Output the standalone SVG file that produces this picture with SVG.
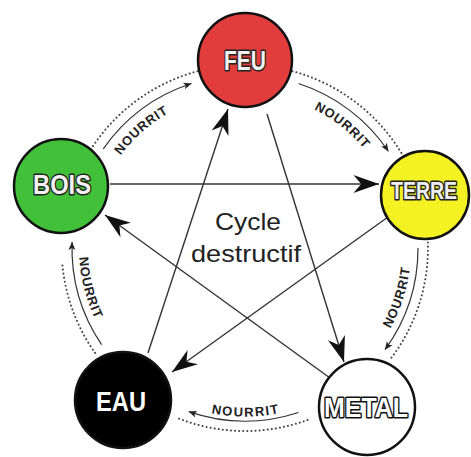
<svg xmlns="http://www.w3.org/2000/svg" width="471" height="457" viewBox="0 0 471 457">
<style>
.node{stroke:#111;stroke-width:2.5}
.lbl{font-family:"Liberation Sans",Arial,sans-serif;font-weight:bold;text-anchor:middle;paint-order:stroke;stroke-linejoin:round}
.dest{fill:none;stroke:#333;stroke-width:1.4}
.nour{fill:none;stroke:#333;stroke-width:1.2}
.dots{fill:none;stroke:#444;stroke-width:2;stroke-dasharray:0.1 4;stroke-linecap:round}
.nt{font-family:"Liberation Sans",Arial,sans-serif;font-weight:bold;font-size:13px;fill:#222}
.cyc{font-family:"Liberation Sans",Arial,sans-serif;font-size:24px;fill:#222;text-anchor:middle}
</style>
<defs>
<marker id="big" markerUnits="userSpaceOnUse" markerWidth="30" markerHeight="20" viewBox="-24 -9 26 18" refX="0" refY="0" orient="auto">
<path d="M0,0 L-23,-8 L-16,0 L-23,8 Z" fill="#111"/>
</marker>
<marker id="small" markerUnits="userSpaceOnUse" markerWidth="12" markerHeight="10" viewBox="-9 -5 10 10" refX="0" refY="0" orient="auto">
<path d="M0,0 L-8,-3.5 L-6,0 L-8,3.5 Z" fill="#222"/>
</marker>
<path id="t1" d="M98,198.8 A155,155 0 0 1 214.1,96.1"/>
<path id="t2" d="M267.4,94.6 A155,155 0 0 1 389,190.7"/>
<path id="t3" d="M356.1,371.4 A166,166 0 0 0 407.4,213.5"/>
<path id="t4" d="M160,393.5 A168,168 0 0 0 330,393.5"/>
<path id="t5" d="M85.2,203.1 A166,166 0 0 0 126.2,363.9"/>
</defs>

<g id="connectors">
<g id="dotted">
<path class="dots" d="M86.5,156.5 A183,183 0 0 1 197.6,71.2"/>
<path class="dots" d="M292.4,71.2 A183,183 0 0 1 403.5,156.5"/>
<path class="dots" d="M427.7,238.4 A183,183 0 0 1 389.2,360.7"/>
<path class="dots" d="M307.6,420 A183,183 0 0 1 175.8,417.4"/>
<path class="dots" d="M95.1,353 A183,183 0 0 1 62.3,264"/>
</g>
<g id="nourrit-arrows">
<path class="nour" marker-end="url(#small)" d="M103.3,148.8 A173,173 0 0 1 191.5,83.5"/>
<path class="nour" marker-end="url(#small)" d="M298.5,83.5 A173,173 0 0 1 388.4,151.3"/>
<path class="nour" marker-end="url(#small)" d="M418,248 A173,173 0 0 1 385,349.7"/>
<path class="nour" marker-end="url(#small)" d="M298.5,412.5 A173,173 0 0 1 188.7,411.6"/>
<path class="nour" marker-end="url(#small)" d="M101.6,344.7 A173,173 0 0 1 72.1,242"/>
</g>
<g id="nourrit-labels">
<text class="nt"><textPath href="#t1" startOffset="50%" text-anchor="middle" textLength="64" lengthAdjust="spacing">NOURRIT</textPath></text>
<text class="nt"><textPath href="#t2" startOffset="50%" text-anchor="middle" textLength="64" lengthAdjust="spacing">NOURRIT</textPath></text>
<text class="nt"><textPath href="#t3" startOffset="50%" text-anchor="middle" textLength="64" lengthAdjust="spacing">NOURRIT</textPath></text>
<text class="nt"><textPath href="#t4" startOffset="50%" text-anchor="middle" textLength="68" lengthAdjust="spacing">NOURRIT</textPath></text>
<text class="nt"><textPath href="#t5" startOffset="50%" text-anchor="middle" textLength="64" lengthAdjust="spacing">NOURRIT</textPath></text>
</g>
<g id="destructive">
<line class="dest" marker-end="url(#big)" x1="110" y1="184" x2="379" y2="184"/>
<line class="dest" marker-end="url(#big)" x1="388" y1="217" x2="172" y2="372"/>
<line class="dest" marker-end="url(#big)" x1="148" y1="353" x2="228" y2="109"/>
<line class="dest" marker-end="url(#big)" x1="267" y1="114" x2="344" y2="362"/>
<line class="dest" marker-end="url(#big)" x1="330" y1="378" x2="105" y2="215"/>
</g>
</g>

<g id="feu">
<circle class="node" cx="245" cy="60" r="47" fill="#e23d3d"/>
<text class="lbl" x="245" y="70" font-size="28" textLength="42" lengthAdjust="spacingAndGlyphs" fill="#f2f2f2" stroke="#222" stroke-width="3">FEU</text>
</g>
<g id="bois">
<circle class="node" cx="61" cy="186" r="47" fill="#42c03a"/>
<text class="lbl" x="62" y="194" font-size="28" textLength="58" lengthAdjust="spacingAndGlyphs" fill="#f2f2f2" stroke="#222" stroke-width="3">BOIS</text>
</g>
<g id="terre">
<circle class="node" cx="425" cy="195" r="44" fill="#f4f222"/>
<text class="lbl" x="424" y="199" font-size="23" textLength="66" lengthAdjust="spacingAndGlyphs" fill="#eeeeee" stroke="#222" stroke-width="3">TERRE</text>
</g>
<g id="eau">
<circle class="node" cx="123" cy="400" r="48" fill="#000"/>
<text class="lbl" x="121" y="411" font-size="27" textLength="50" lengthAdjust="spacingAndGlyphs" fill="#fff">EAU</text>
</g>
<g id="metal">
<circle class="node" cx="367" cy="407" r="48" fill="#fff"/>
<text class="lbl" x="366" y="417" font-size="27" textLength="84" lengthAdjust="spacingAndGlyphs" fill="#fff" stroke="#111" stroke-width="3">METAL</text>
</g>

<g id="center-label">
<text class="cyc" x="248" y="230" textLength="66" lengthAdjust="spacingAndGlyphs">Cycle</text>
<text class="cyc" x="246" y="262" textLength="110" lengthAdjust="spacingAndGlyphs">destructif</text>
</g>
</svg>
